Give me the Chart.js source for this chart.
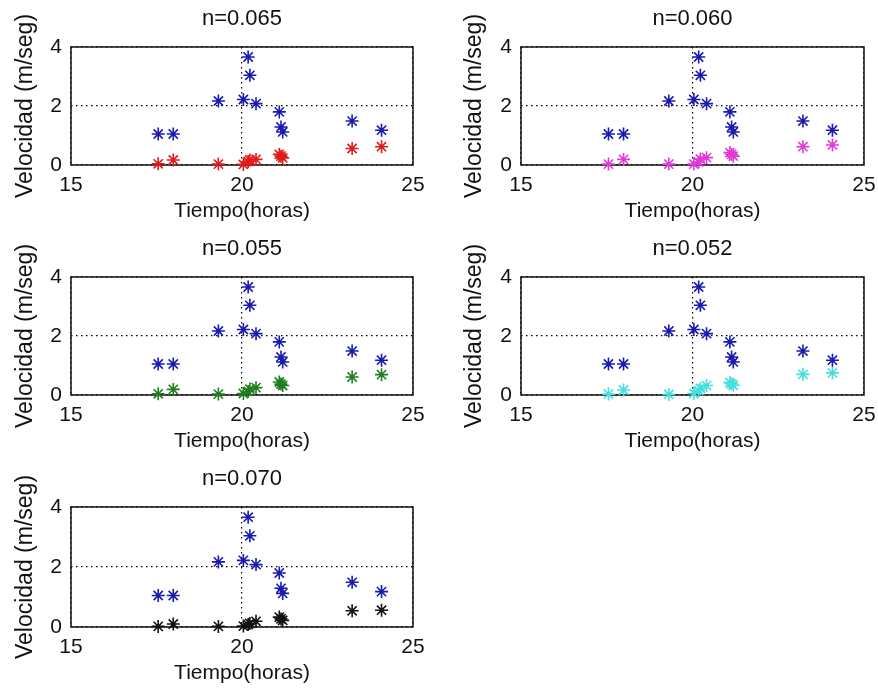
<!DOCTYPE html>
<html>
<head>
<meta charset="utf-8">
<script src="https://cdn.jsdelivr.net/npm/chart.js@4.4.1/dist/chart.umd.min.js"></script>
<style>
  html, body { margin: 0; padding: 0; background: #fff; }
  #wrap { position: relative; width: 878px; height: 692px; overflow: hidden; }
  #wrap canvas { position: absolute; }
</style>
</head>
<body>
<div id="wrap">
  <canvas id="c065" width="440" height="230" style="left:0px;top:0px"></canvas>
  <canvas id="c060" width="438" height="230" style="left:440px;top:0px"></canvas>
  <canvas id="c055" width="440" height="230" style="left:0px;top:230px"></canvas>
  <canvas id="c052" width="438" height="230" style="left:440px;top:230px"></canvas>
  <canvas id="c070" width="440" height="232" style="left:0px;top:460px"></canvas>
</div>
<script>
// hora de cada medición
const horas = [17.55, 17.99, 19.31, 20.04, 20.18, 20.23, 20.41, 21.09, 21.14, 21.19, 23.22, 24.08];
// velocidad medida (azul, igual en todos los paneles)
const velMedida = [1.05, 1.05, 2.17, 2.22, 3.66, 3.04, 2.08, 1.80, 1.29, 1.12, 1.49, 1.18];
// velocidad calculada para cada n de Manning
const velN065 = [0.04, 0.17, 0.03, 0.02, 0.12, 0.17, 0.19, 0.36, 0.30, 0.24, 0.56, 0.62];
const velN060 = [0.03, 0.19, 0.03, 0.03, 0.10, 0.20, 0.25, 0.42, 0.36, 0.30, 0.62, 0.68];
const velN055 = [0.04, 0.19, 0.03, 0.05, 0.12, 0.20, 0.25, 0.44, 0.37, 0.32, 0.61, 0.69];
const velN052 = [0.03, 0.17, 0.02, 0.05, 0.15, 0.22, 0.32, 0.42, 0.38, 0.33, 0.70, 0.75];
const velN070 = [0.02, 0.10, 0.02, 0.03, 0.08, 0.12, 0.19, 0.33, 0.27, 0.22, 0.54, 0.56];

const xTicks = [15, 20, 25];
const yTicks = [0, 2, 4];

const FONT = "'Liberation Sans', Arial, Helvetica, sans-serif";

// marco negro alrededor del área de datos
const boxPlugin = {
  id: 'axesBox',
  beforeDatasetsDraw(chart) {
    const { ctx, chartArea: a } = chart;
    ctx.save();
    ctx.strokeStyle = '#111';
    ctx.lineWidth = 1.5;
    ctx.strokeRect(a.left, a.top, a.right - a.left, a.bottom - a.top);
    ctx.restore();
  }
};

function toPoints(ys) {
  return horas.map((h, i) => ({ x: h, y: ys[i] }));
}

function starSet(ys, color) {
  return {
    data: toPoints(ys),
    pointStyle: 'star',
    pointRadius: 6.5,
    pointHoverRadius: 6.5,
    borderWidth: 1.6,
    borderColor: color,
    backgroundColor: color,
    showLine: false,
    clip: false
  };
}

// leftW: ancho reservado al eje y, rightPad: margen a la derecha del área
function drawPanel(id, title, ys, color, leftW, rightPad, yTitlePad) {
  new Chart(document.getElementById(id), {
    type: 'scatter',
    data: { datasets: [starSet(velMedida, '#1a1aae'), starSet(ys, color)] },
    options: {
      responsive: false,
      animation: false,
      events: [],
      layout: { padding: { left: 0, top: 0, bottom: 0, right: rightPad } },
      plugins: {
        legend: { display: false },
        tooltip: { enabled: false },
        title: {
          display: true,
          text: title,
          fullSize: false,
          color: '#111',
          font: { family: FONT, size: 22, weight: 'normal' },
          padding: { top: 6, bottom: 14.6 }
        }
      },
      scales: {
        x: {
          type: 'linear',
          min: 15,
          max: 25,
          afterBuildTicks: (s) => { s.ticks = xTicks.map((v) => ({ value: v })); },
          afterFit: (s) => { s.height = 65; s.paddingLeft = 0; s.paddingRight = 0; },
          grid: { color: '#000', lineWidth: 1.2, drawTicks: false },
          border: { display: false, dash: [1.5, 3.5] },
          ticks: { color: '#111', padding: 8, maxRotation: 0, font: { family: FONT, size: 21 } },
          title: {
            display: true,
            text: 'Tiempo(horas)',
            color: '#111',
            font: { family: FONT, size: 21 },
            padding: { top: 0, bottom: 6 }
          }
        },
        y: {
          type: 'linear',
          min: 0,
          max: 4,
          afterBuildTicks: (s) => { s.ticks = yTicks.map((v) => ({ value: v })); },
          afterFit: (s) => { s.width = leftW; },
          grid: { color: '#000', lineWidth: 1.2, drawTicks: false },
          border: { display: false, dash: [1.5, 3.5] },
          ticks: { color: '#111', padding: 9, font: { family: FONT, size: 21 } },
          title: {
            display: true,
            text: 'Velocidad (m/seg)',
            color: '#111',
            font: { family: FONT, size: 23 },
            padding: { top: yTitlePad, bottom: 0 }
          }
        }
      }
    },
    plugins: [boxPlugin]
  });
}

drawPanel('c065', 'n=0.065', velN065, '#e01a1a', 71, 27, 12);
drawPanel('c060', 'n=0.060', velN060, '#e03ad8', 81, 14, 21);
drawPanel('c055', 'n=0.055', velN055, '#1f7f1f', 71, 27, 12);
drawPanel('c052', 'n=0.052', velN052, '#45dede', 81, 14, 21);
drawPanel('c070', 'n=0.070', velN070, '#111111', 71, 27, 12);
</script>
</body>
</html>
